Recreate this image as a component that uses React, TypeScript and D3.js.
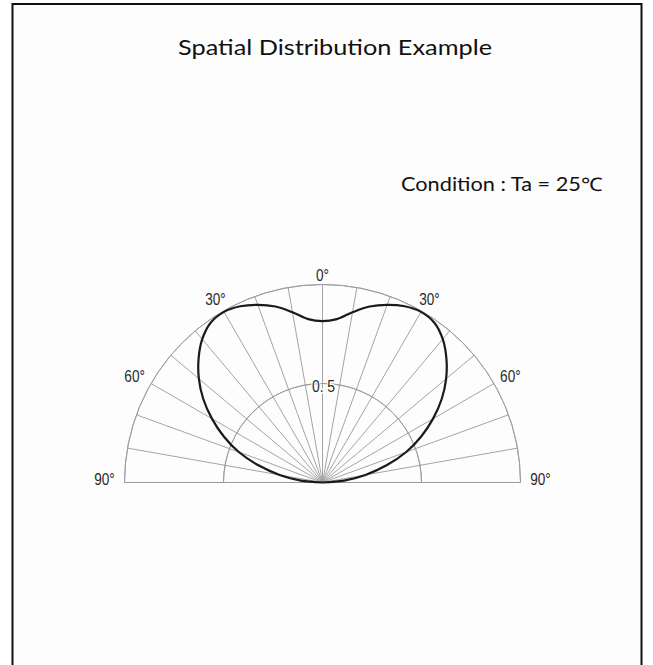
import React from 'react'
import * as d3 from 'd3'

// Chart texts
const title = 'Spatial Distribution Example'
const condition = 'Condition : Ta = 25\u2103'

// Relative intensity vs. angle (deg), symmetric about 0°
const halfAngles = [0, 5, 10, 15, 20, 25, 30, 35, 40, 45, 50, 55, 60, 65, 70, 75, 80, 85, 90]
const halfIntensity = [0.815, 0.828, 0.873, 0.92, 0.955, 0.982, 0.995, 0.985, 0.945, 0.885, 0.815, 0.735, 0.645, 0.55, 0.45, 0.335, 0.22, 0.11, 0]

// Grid
const spokeAngles = d3.range(-90, 91, 10)
const ringValues = [0.5, 1]
const angleLabels = [-90, -60, -30, 0, 30, 60, 90]
const ringLabel = '0. 5'

const width = 653
const height = 665

const App = () => {
    const cx = 322.5
    const cy = 482.5
    const R = 198

    const r = d3.scaleLinear().domain([0, 1]).range([0, R])
    const toRad = (deg: number) => (deg * Math.PI) / 180

    // full curve from -90 to 90
    const pts: [number, number][] = []
    for (let i = halfAngles.length - 1; i > 0; i--) pts.push([-halfAngles[i], halfIntensity[i]])
    halfAngles.forEach((a, i) => pts.push([a, halfIntensity[i]]))

    const curve = d3.lineRadial<[number, number]>()
        .angle(d => toRad(d[0]))
        .radius(d => r(d[1]))
        .curve(d3.curveCatmullRom.alpha(0.5))

    const ringArc = d3.arc<number>()
        .innerRadius(d => r(d))
        .outerRadius(d => r(d))
        .startAngle(-Math.PI / 2)
        .endAngle(Math.PI / 2)

    const labelFont = '"Liberation Sans", Arial, sans-serif'
    const grid = '#9a9a9a'

    return (
        <svg width={width} height={height} style={{ position: 'absolute', left: 0, top: 0, background: '#fff' }}>
            {/* frame */}
            <rect x={12.5} y={4} width={629} height={680} fill="#fdfdfd" stroke="#111" strokeWidth={2} />

            <text x={335} y={55} textAnchor="middle" fontFamily="Lato, 'Open Sans', sans-serif"
                fontSize={22} fill="#111" textLength={314} lengthAdjust="spacingAndGlyphs">{title}</text>
            <text x={602} y={191} textAnchor="end" fontFamily="Lato, 'Open Sans', sans-serif"
                fontSize={18.5} fill="#111" textLength={201} lengthAdjust="spacingAndGlyphs">{condition}</text>

            <g transform={`translate(${cx},${cy})`}>
                {/* spokes */}
                {spokeAngles.map(a => (
                    <line key={a} x1={0} y1={0}
                        x2={r(1) * Math.sin(toRad(a))} y2={-r(1) * Math.cos(toRad(a))}
                        stroke={grid} strokeWidth={0.9} />
                ))}
                {/* rings */}
                {ringValues.map(v => (
                    <path key={v} d={ringArc(v) || ''} fill="none" stroke={grid} strokeWidth={0.9} />
                ))}
                <line x1={-r(1)} x2={r(1)} y1={0} y2={0} stroke={grid} strokeWidth={1} />

                {/* intensity curve */}
                <path d={curve(pts) || ''} fill="none" stroke="#1a1a1a" strokeWidth={2.2} />

                {/* labels */}
                {angleLabels.map(a => {
                    const s = Math.abs(Math.sin(toRad(a)))
                    const lr = r(1) + 12 + 8 * s
                    const x = lr * Math.sin(toRad(a))
                    const y = -lr * Math.cos(toRad(a)) + (Math.abs(a) === 90 ? -4 : 2)
                    return (
                        <text key={a} transform={`translate(${x},${y}) scale(0.8,1)`} textAnchor="middle"
                            dominantBaseline="central" fontFamily={labelFont} fontSize={17} fill="#2a2a2a">
                            {Math.abs(a)}°
                        </text>
                    )
                })}
                <text transform={`translate(1,${-r(0.5) + 2}) scale(0.82,1)`} textAnchor="middle"
                    dominantBaseline="central" fontFamily={labelFont} fontSize={17} fill="#2a2a2a"
                    stroke="#fdfdfd" strokeWidth={3} paintOrder="stroke">{ringLabel}</text>
            </g>
        </svg>
    )
}

export default App
